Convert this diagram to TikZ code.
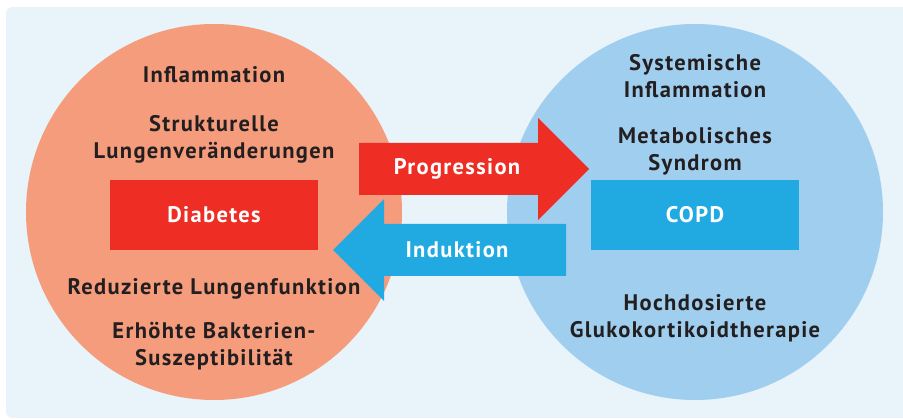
\documentclass[tikz,border=0pt]{standalone}
\usepackage{fontspec}
\setmainfont[LetterSpace=6]{PT Sans}
\usepackage{xcolor}
\usetikzlibrary{calc}

\definecolor{panelbg}{HTML}{E8F3FA}
\definecolor{lachs}{HTML}{F59C7C}
\definecolor{hellblau}{HTML}{A0CEEE}
\definecolor{rot}{HTML}{EE2E24}
\definecolor{blau}{HTML}{21AAE1}
\definecolor{dunkel}{HTML}{231F20}

\begin{document}
\begin{tikzpicture}[x=0.025cm, y=-0.025cm,
  font=\bfseries\fontsize{16}{19}\selectfont,
  txt/.style={align=center, text=dunkel, inner sep=0pt},
  box/.style={minimum width=5.2cm, minimum height=1.75cm, inner sep=0pt, text=white}]
\useasboundingbox (0,0) rectangle (903,419);
\clip (0,0) rectangle (903,419);
\fill[panelbg, rounded corners=4] (6,7) rectangle (930,418);
% circles
\fill[lachs] (214,212) circle[radius=188];
\fill[hellblau] (695,212) circle[radius=188];
% boxes
\node[box, fill=rot] (diab) at (214,215) {Diabetes};
\node[box, fill=blau] (copd) at (695,215) {COPD};
% arrows
\fill[rot] (359,143) -- (538,143) -- (538,118) -- (589,169) -- (538,220) -- (538,195) -- (359,195) -- cycle;
\fill[blau] (566,224) -- (384,224) -- (384,199) -- (333,250) -- (384,301) -- (384,276) -- (566,276) -- cycle;
\node[txt, text=white] (prog) at (457,169) {Progression};
\node[txt, text=white] (ind) at (457,250) {Induktion};
% left texts
\node[txt] (infl) at (214,75) {Inflammation};
\node[txt] (strukt) at (214,139) {Strukturelle\\Lungenveränderungen};
\node[txt] (redu) at (214,289) {Reduzierte Lungenfunktion};
\node[txt] (bakt) at (214,346) {Erhöhte Bakterien-\\Suszeptibilität};
% right texts
\node[txt] (sysinfl) at (695,76) {Systemische\\Inflammation};
\node[txt] (metab) at (695,151) {Metabolisches\\Syndrom};
\node[txt] (gluko) at (695,318) {Hochdosierte\\Glukokortikoidtherapie};
\end{tikzpicture}
\end{document}
